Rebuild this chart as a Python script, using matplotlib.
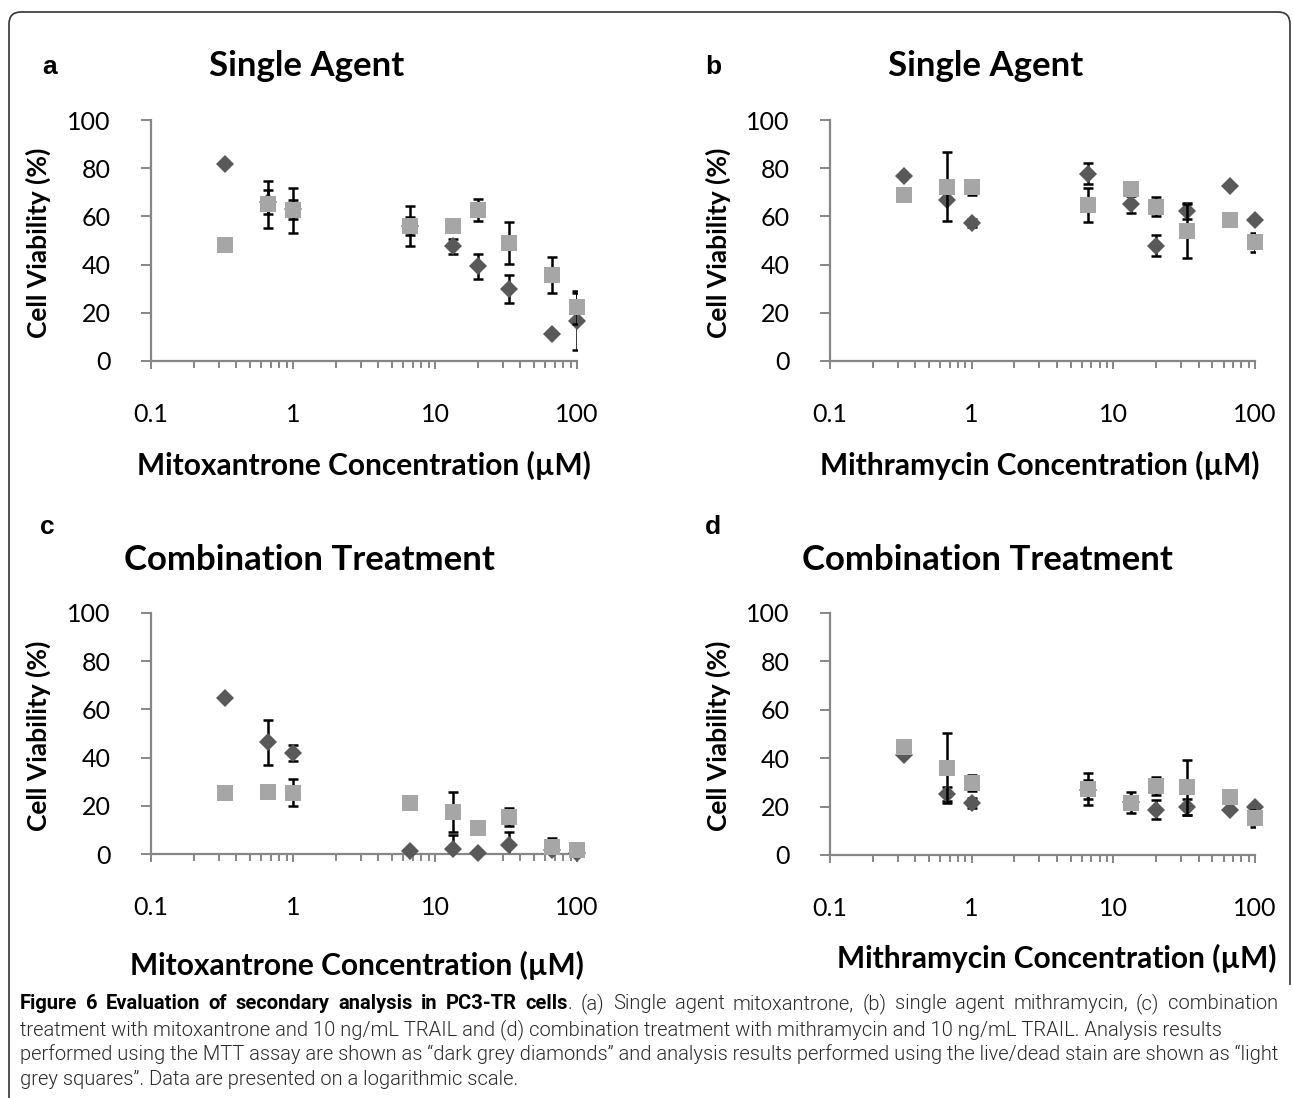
import numpy as np
import matplotlib
matplotlib.use('Agg')
import matplotlib.pyplot as plt
from matplotlib.ticker import FixedLocator, NullFormatter
from matplotlib.path import Path
from matplotlib.patches import PathPatch

W, H = 1293, 1098
nan = np.nan

# concentrations (uM), shared by all four panels
conc = [0.333, 0.667, 1.0, 6.67, 13.3, 20.0, 33.3, 66.7, 100.0]

# (a) mitoxantrone alone
a_mtt = [81.7, 66.0, 63.0, 56.0, 47.6, 39.3, 29.9, 11.1, 16.5]
a_mtt_err = [nan, 5.0, 4.0, 3.6, 3.0, 5.3, 5.7, nan, 11.8]
a_ld = [48.0, 65.0, 62.6, 56.0, 56.0, 62.6, 48.8, 35.6, 22.2]
a_ld_err = [nan, 9.8, 9.3, 8.3, nan, 4.5, 8.7, 7.4, 7.0]

# (b) mithramycin alone
b_mtt = [76.9, 66.8, 57.3, 77.8, 65.0, 47.9, 62.3, 72.7, 58.4]
b_mtt_err = [nan, nan, 1.5, 4.5, 3.4, 4.2, 3.4, nan, nan]
b_ld = [68.8, 72.3, 72.0, 64.7, 71.2, 64.0, 54.0, 58.4, 49.2]
b_ld_err = [nan, 14.3, 3.3, 7.0, nan, 3.9, 11.2, nan, 3.8]

# (c) mitoxantrone + TRAIL
c_mtt = [64.6, 46.3, 41.9, 1.4, 2.1, 0.3, 3.7, 1.5, 0.3]
c_mtt_err = [nan, 9.5, 3.4, nan, 5.6, nan, 5.5, nan, nan]
c_ld = [25.5, 25.9, 25.5, 21.1, 17.4, 10.9, 15.3, 2.9, 1.5]
c_ld_err = [nan, nan, 5.5, nan, 8.3, nan, 3.6, 3.7, nan]

# (d) mithramycin + TRAIL
d_mtt = [41.5, 25.2, 21.6, 27.0, 22.0, 18.8, 19.9, 18.6, 19.9]
d_mtt_err = [nan, 3.0, 2.0, 4.0, nan, 4.0, 3.4, nan, nan]
d_ld = [44.7, 36.0, 29.8, 27.1, 21.6, 28.5, 27.9, 23.8, 15.1]
d_ld_err = [nan, 14.5, 3.2, 6.6, 4.3, 3.8, 11.3, nan, 3.7]

x_ticks = [0.1, 1, 10, 100]
x_ticklabels = ['0.1', '1', '10', '100']
y_ticks = [0, 20, 40, 60, 80, 100]

DARK = '#595959'
LIGHT = '#a6a6a6'
AXC = '#868686'
FONT = ['Lato', 'DejaVu Sans']
CAPFONT = ['Roboto', 'DejaVu Sans']

fig = plt.figure(figsize=(W / 100, H / 100), dpi=100)
fig.patch.set_facecolor('white')


def fx(x):
    return x / W


def fy(y):
    return 1 - y / H


def panel(x0, x1, y0, y100, mtt, mtt_err, ld, ld_err):
    ax = fig.add_axes([fx(x0), fy(y0), (x1 - x0) / W, (y0 - y100) / H])
    ax.set_xscale('log')
    ax.set_xlim(0.1, 100)
    ax.set_ylim(0, 100)
    for s in ['top', 'right']:
        ax.spines[s].set_visible(False)
    for s in ['left', 'bottom']:
        ax.spines[s].set_color(AXC)
        ax.spines[s].set_linewidth(1.6)
    ax.xaxis.set_major_locator(FixedLocator(x_ticks))
    ax.set_xticklabels(x_ticklabels)
    minors = [m * d for d in [0.1, 1, 10] for m in range(2, 10)]
    ax.xaxis.set_minor_locator(FixedLocator(minors))
    ax.xaxis.set_minor_formatter(NullFormatter())
    ax.set_yticks(y_ticks)
    ax.tick_params(axis='x', which='major', direction='out', length=6,
                   width=1.4, color=AXC, labelsize=18, pad=24)
    ax.tick_params(axis='x', which='minor', direction='out', length=5,
                   width=1.4, color=AXC)
    ax.tick_params(axis='y', direction='out', length=7, width=1.4,
                   color=AXC, labelsize=18, pad=22)
    for lab in ax.get_xticklabels() + ax.get_yticklabels():
        lab.set_family(FONT)

    # MTT series first, live/dead squares drawn over it
    ax.errorbar(conc, mtt, yerr=mtt_err, fmt='none', ecolor='black',
                elinewidth=1.8, capsize=3.8, capthick=1.8, zorder=2)
    ax.plot(conc, mtt, 'D', color=DARK, markersize=9.5, markeredgewidth=0,
            zorder=3, clip_on=False)
    ax.errorbar(conc, ld, yerr=ld_err, fmt='none', ecolor='black',
                elinewidth=1.8, capsize=3.8, capthick=1.8, zorder=4)
    ax.plot(conc, ld, 's', color=LIGHT, markersize=11, markeredgewidth=0,
            zorder=5, clip_on=False)
    return ax


panel(151, 577, 361, 120, a_mtt, a_mtt_err, a_ld, a_ld_err)
panel(830, 1255, 361, 120, b_mtt, b_mtt_err, b_ld, b_ld_err)
panel(151, 577, 854, 613, c_mtt, c_mtt_err, c_ld, c_ld_err)
panel(830, 1255, 855, 613, d_mtt, d_mtt_err, d_ld, d_ld_err)

# overlay in pixel units for frame, headings and caption
ov = fig.add_axes([0, 0, 1, 1], zorder=-1)
ov.set_xlim(0, W)
ov.set_ylim(H, 0)
ov.axis('off')

titles = [('Single Agent', 307, 66), ('Single Agent', 986, 66),
          ('Combination Treatment', 309, 560), ('Combination Treatment', 987, 560)]
for t, x, y in titles:
    ov.text(x, y, t, ha='center', va='center', fontsize=25,
            fontweight='bold', family=FONT)

letters = [('a', 50, 67), ('b', 713, 67), ('c', 47, 527), ('d', 713, 527)]
for t, x, y in letters:
    ov.text(x, y, t, ha='center', va='center', fontsize=19,
            fontweight='bold', family=['Liberation Sans', 'DejaVu Sans'])

ylabels = [(38, 243), (718, 243), (38, 736), (718, 736)]
for x, y in ylabels:
    ov.text(x, y, 'Cell Viability (%)', ha='center', va='center',
            rotation=90, fontsize=19, fontweight='bold', family=FONT)

xlabels = [('Mitoxantrone Concentration (\u00b5M)', 364, 465),
           ('Mithramycin Concentration (\u00b5M)', 1040, 465),
           ('Mitoxantrone Concentration (\u00b5M)', 357, 965),
           ('Mithramycin Concentration (\u00b5M)', 1057, 958)]
for t, x, y in xlabels:
    ov.text(x, y, t, ha='center', va='center', fontsize=21.5,
            fontweight='bold', family=FONT)

# rounded frame, open at the bottom
r = 12
L, R, T = 9, 1290, 12
verts = [(L, H), (L, T + r), (L, T), (L + r, T), (R - r, T), (R, T),
         (R, T + r), (R, 985)]
codes = [Path.MOVETO, Path.LINETO, Path.CURVE3, Path.CURVE3, Path.LINETO,
         Path.CURVE3, Path.CURVE3, Path.LINETO]
ov.add_patch(PathPatch(Path(verts, codes), fill=False, edgecolor='#333333',
                       lw=1.2))

# caption; size chosen so the longest line fills the width,
# the first line is justified by widening its word gaps
cap_lines = [
    [('Figure 6 Evaluation of secondary analysis in PC3-TR cells', True),
     ('. (a) Single agent mitoxantrone, (b) single agent mithramycin, (c) combination', False)],
    [('treatment with mitoxantrone and 10 ng/mL TRAIL and (d) combination treatment with mithramycin and 10 ng/mL TRAIL. Analysis results', False)],
    [('performed using the MTT assay are shown as \u201cdark grey diamonds\u201d and analysis results performed using the live/dead stain are shown as \u201clight', False)],
    [('grey squares\u201d. Data are presented on a logarithmic scale.', False)],
]
cap_justify = [True, False, False, False]
cap_base = [1009, 1035, 1060, 1085]
CAP_L, CAP_R = 20, 1278

renderer = fig.canvas.get_renderer()


def text_w(s, bold, fs):
    t = ov.text(0, 0, s, fontsize=fs, family=CAPFONT,
                fontweight='bold' if bold else 300)
    w = t.get_window_extent(renderer).width
    t.remove()
    return w


def split_words(runs):
    words = [[]]
    for text, bold in runs:
        for i, p in enumerate(text.split(' ')):
            if i > 0:
                words.append([])
            if p:
                words[-1].append((p, bold))
    return [w for w in words if w]


cap_fs = 10 * (CAP_R - CAP_L) / text_w(cap_lines[2][0][0], False, 10)

for runs, just, y in zip(cap_lines, cap_justify, cap_base):
    if not just:
        x = CAP_L
        for s, b in runs:
            ov.text(x, y, s, ha='left', va='baseline', fontsize=cap_fs,
                    family=CAPFONT, fontweight='bold' if b else 300,
                    color='black' if b else '#2a2a2a')
            x += text_w(s, b, cap_fs)
        continue
    words = split_words(runs)
    widths = [[text_w(p, b, cap_fs) for p, b in w] for w in words]
    used = sum(sum(ws) for ws in widths)
    gap = (CAP_R - CAP_L - used) / (len(words) - 1)
    x = CAP_L
    for w, ws in zip(words, widths):
        for (p, b), pw in zip(w, ws):
            ov.text(x, y, p, ha='left', va='baseline', fontsize=cap_fs,
                    family=CAPFONT, fontweight='bold' if b else 300,
                    color='black' if b else '#2a2a2a')
            x += pw
        x += gap

fig.savefig('out.png', dpi=100, facecolor='white')
